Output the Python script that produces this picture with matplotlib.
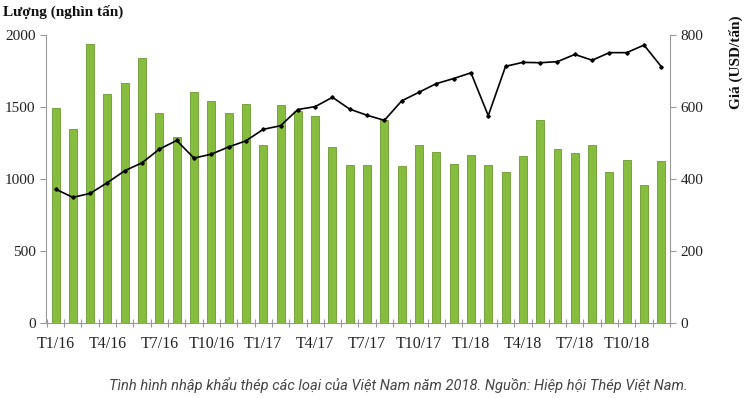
import matplotlib
matplotlib.use("Agg")
import matplotlib.pyplot as plt
import numpy as np

months = [f"T{m}/{y}" for y in (16, 17, 18) for m in range(1, 13)]
volume = [1490, 1350, 1940, 1590, 1665, 1840, 1460, 1290, 1605, 1545, 1455, 1520,
          1235, 1515, 1470, 1440, 1225, 1095, 1100, 1410, 1090, 1235, 1185, 1105,
          1165, 1100, 1048, 1162, 1410, 1208, 1178, 1236, 1048, 1132, 960, 1125]
price = [372, 349, 360, 390, 423, 445, 483, 507, 458, 469, 489, 506,
         538, 548, 593, 601, 627, 594, 577, 563, 617, 641, 665, 679,
         695, 576, 713, 724, 723, 726, 746, 730, 751, 751, 772, 712]
tick_labels = months[::3]

fig = plt.figure(figsize=(7.48, 3.98), dpi=100)
ax = fig.add_axes([46/748, 1-323/398, (670-46)/748, (323-35)/398])
x = np.arange(len(months))
ax.bar(x, volume, width=0.46, color="#86bd3e", edgecolor="#6a9a30", linewidth=0.6, zorder=2)
ax.set_xlim(-0.55, 35.5)
ax.set_ylim(0, 2000)
ax.set_yticks([0, 500, 1000, 1500, 2000])
ax.set_xticks(x[::3])
ax.set_xticklabels(tick_labels)
ax.set_xticks(np.arange(-0.5, 35.6, 1), minor=True)

ax2 = ax.twinx()
ax2.plot(x, price, color="black", linewidth=1.2, marker="D", markersize=1.8, zorder=3)
ax2.set_ylim(0, 800)
ax2.set_yticks([0, 200, 400, 600, 800])

serif = "Liberation Serif"
gray = "#999999"
for a in (ax, ax2):
    for s in a.spines.values():
        s.set_visible(False)
ax.spines["left"].set_visible(True)
ax.spines["left"].set_color(gray)
ax.spines["bottom"].set_visible(True)
ax.spines["bottom"].set_color(gray)
ax2.spines["right"].set_visible(True)
ax2.spines["right"].set_color(gray)

ax.tick_params(axis="y", colors=gray, labelcolor="#222222", length=4, width=0.8)
ax2.tick_params(axis="y", colors=gray, labelcolor="#222222", length=4, width=0.8)
ax.tick_params(axis="x", which="major", length=0, pad=9, labelcolor="#222222")
ax.tick_params(axis="x", which="minor", colors=gray, length=6, width=0.8, direction="inout")
for lab in ax.get_yticklabels() + ax2.get_yticklabels():
    lab.set_fontfamily(serif)
    lab.set_fontsize(11)
for lab in ax.get_xticklabels():
    lab.set_fontfamily(serif)
    lab.set_fontsize(11.5)

fig.text(3/748, 1-12/398, "Lượng (nghìn tấn)", fontfamily=serif, fontweight="bold",
         fontsize=11, va="center", ha="left", color="#111111")
fig.text(736/748, 1-62/398, "Giá (USD/tấn)", fontfamily=serif, fontweight="bold",
         fontsize=11, va="center", ha="center", rotation=90, color="#111111")
fig.text(398/748, 1-385/398,
         "Tình hình nhập khẩu thép các loại của Việt Nam năm 2018. Nguồn: Hiệp hội Thép Việt Nam.",
         fontfamily="Roboto", fontstyle="italic", fontsize=10.5, ha="center", va="center",
         color="#444444")

fig.savefig("out.png", dpi=100)
